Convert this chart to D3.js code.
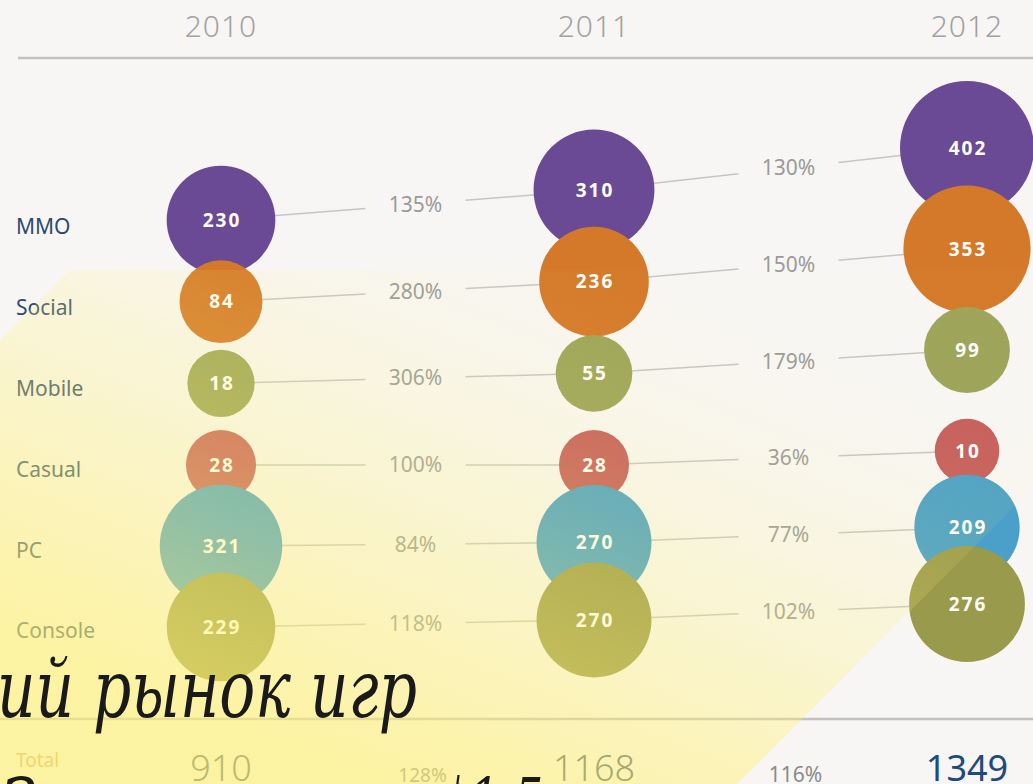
<!DOCTYPE html>
<meta charset="utf-8">
<style>
body { margin: 0; background: #f8f6f5; }
svg { display: block; }
.cat { font: 21px "Noto Sans", sans-serif; fill: #2c4b70; }
.year { font: 300 30px "Noto Sans", sans-serif; fill: #a3a3a3; letter-spacing: 1px; }
.val { font: bold 19px "Noto Sans", sans-serif; fill: #fff; letter-spacing: 2px; }
.pct { font: 21px "Noto Sans", sans-serif; fill: #9a9a9a; }
.link { stroke: #c6c6c6; stroke-width: 1.5px; }
.rule { stroke: #c2c2c2; stroke-width: 2.5px; }
.big { font: italic 80px "DejaVu Serif", serif; fill: #1a1a1a; }
</style>
<svg width="1033" height="784"></svg>
<script src="https://cdnjs.cloudflare.com/ajax/libs/d3/7.8.5/d3.min.js"></script>
<script>

var years = ["2010", "2011", "2012"];
var categories = ["MMO", "Social", "Mobile", "Casual", "PC", "Console"];
var values2010 = [230, 84, 18, 28, 321, 229];
var values2011 = [310, 236, 55, 28, 270, 270];
var values2012 = [402, 353, 99, 10, 209, 276];
var growth1011 = ["135%", "280%", "306%", "100%", "84%", "118%"];
var growth1112 = ["130%", "150%", "179%", "36%", "77%", "102%"];
var totals = [910, 1168, 1349];
var totalGrowth = ["128%", "116%"];

var values = [values2010, values2011, values2012];
var growth = [growth1011, growth1112];

var colors = {
  MMO: "#6a4a94", Social: "#d4782a", Mobile: "#9ca45a",
  Casual: "#c65e5e", PC: "#4aa0c8", Console: "#9a9a4c"
};

var svg = d3.select("svg"),
    width = +svg.attr("width"),
    height = +svg.attr("height");

var x = d3.scalePoint().domain(years).range([221, 967]);
var r = d3.scalePow().exponent(0.75)
    .domain([0, d3.max(values, function(v) { return d3.max(v); })]).range([30, 67]);
var rowY = d3.scalePoint().domain(categories).range([227, 631]);

// each column is squeezed a little toward the top, like the original layout
var colRange = { "2010": [220, 465, 627], "2011": [190, 465, 620], "2012": [148, 451, 604] };
function colY(year) {
  return d3.scaleLinear().domain([0, 3, 5]).range(colRange[year]);
}

// header
svg.append("g").selectAll("text").data(years).join("text")
    .attr("class", "year")
    .attr("x", function(d) { return x(d); })
    .attr("y", 37)
    .attr("text-anchor", "middle")
    .text(function(d) { return d; });
svg.append("line").attr("class", "rule").attr("x1", 18).attr("x2", width).attr("y1", 58).attr("y2", 58);

// category labels
svg.append("g").selectAll("text").data(categories).join("text")
    .attr("class", "cat")
    .attr("x", 16)
    .attr("y", function(d) { return rowY(d); })
    .attr("dy", "0.35em")
    .text(function(d) { return d; });

// connecting lines + growth labels
var gap = 50, shift = 8;
var links = svg.append("g");
for (var c = 0; c < years.length - 1; c++) {
  var ya = colY(years[c]), yb = colY(years[c + 1]);
  var xa = x(years[c]), xb = x(years[c + 1]);
  categories.forEach(function(cat, i) {
    var y0 = ya(i), y1 = yb(i);
    var lx = (xa + xb) / 2 + shift;
    var at = function(px) { return y0 + (y1 - y0) * (px - xa) / (xb - xa); };
    links.append("line").attr("class", "link")
        .attr("x1", xa).attr("y1", y0).attr("x2", lx - gap).attr("y2", at(lx - gap));
    links.append("line").attr("class", "link")
        .attr("x1", lx + gap).attr("y1", at(lx + gap)).attr("x2", xb).attr("y2", y1);
    links.append("text").attr("class", "pct")
        .attr("x", lx).attr("y", at(lx)).attr("dy", "0.35em")
        .attr("text-anchor", "middle")
        .text(growth[c][i]);
  });
}

// bubbles
years.forEach(function(year, c) {
  var y = colY(year);
  var g = svg.append("g");
  var node = g.selectAll("g").data(categories).join("g")
      .attr("transform", function(d, i) { return "translate(" + x(year) + "," + y(i) + ")"; });
  node.append("circle")
      .attr("r", function(d, i) { return r(values[c][i]); })
      .attr("fill", function(d) { return colors[d]; });
  node.append("text")
      .attr("class", "val")
      .attr("text-anchor", "middle")
      .attr("dy", "0.35em")
      .attr("dx", 1)
      .text(function(d, i) { return values[c][i]; });
});

// totals
svg.append("line").attr("class", "rule").attr("x1", 0).attr("x2", width).attr("y1", 719).attr("y2", 719);
svg.append("text").attr("x", 16).attr("y", 767)
    .style("font", "19px 'Noto Sans', sans-serif").style("fill", "#d7a574").text("Total");
svg.append("g").selectAll("text").data(totals).join("text")
    .attr("x", function(d, i) { return x(years[i]); })
    .attr("y", 781)
    .attr("text-anchor", "middle")
    .style("font", function(d, i) { return (i == 2 ? "400" : "300") + " 36px 'Noto Sans', sans-serif"; })
    .style("fill", function(d, i) { return i == 2 ? "#1f4b7c" : "#4d5f72"; })
    .text(function(d) { return d; });
svg.append("g").selectAll("text").data(totalGrowth).join("text")
    .attr("x", function(d, i) { return (x(years[i]) + x(years[i + 1])) / 2 + 15; })
    .attr("y", 782)
    .attr("text-anchor", "middle")
    .style("font", function(d, i) { return (i == 0 ? 19 : 21) + "px 'Noto Sans', sans-serif"; })
    .style("fill", "#8a8a8a")
    .text(function(d) { return d; });

// yellow overlay
var defs = svg.append("defs");
var grad = defs.append("linearGradient").attr("id", "glow")
    .attr("gradientUnits", "userSpaceOnUse")
    .attr("x1", 600).attr("y1", 270).attr("x2", 400).attr("y2", 784);
[[0, 0.02], [0.25, 0.1], [0.55, 0.3], [1, 0.62]].forEach(function(s) {
  grad.append("stop").attr("offset", s[0]).attr("stop-color", "#fff170").attr("stop-opacity", s[1]);
});
svg.append("path")
    .attr("d", "M0,340L70,270L1033,270L1033,488L737,784L0,784Z")
    .attr("fill", "url(#glow)");

// title text over everything
var probe = svg.append("text").attr("class", "big").text("ий рынок игр");
var sx = 420 / probe.node().getComputedTextLength();
probe.remove();
var title = svg.append("g").attr("transform", "translate(417,717) scale(" + sx + ",1)");
title.append("text").attr("class", "big").attr("text-anchor", "end").text("Российский рынок игр");
var sub = svg.append("g").attr("transform", "translate(0,836) scale(" + sx + ",1)");
var st = sub.append("text").attr("class", "big");
st.append("tspan").attr("x", 0).text("Занимает около");
st.append("tspan").attr("x", 440 / sx).attr("dy", -14).style("font-size", "62px").text("$1,5");

</script>
